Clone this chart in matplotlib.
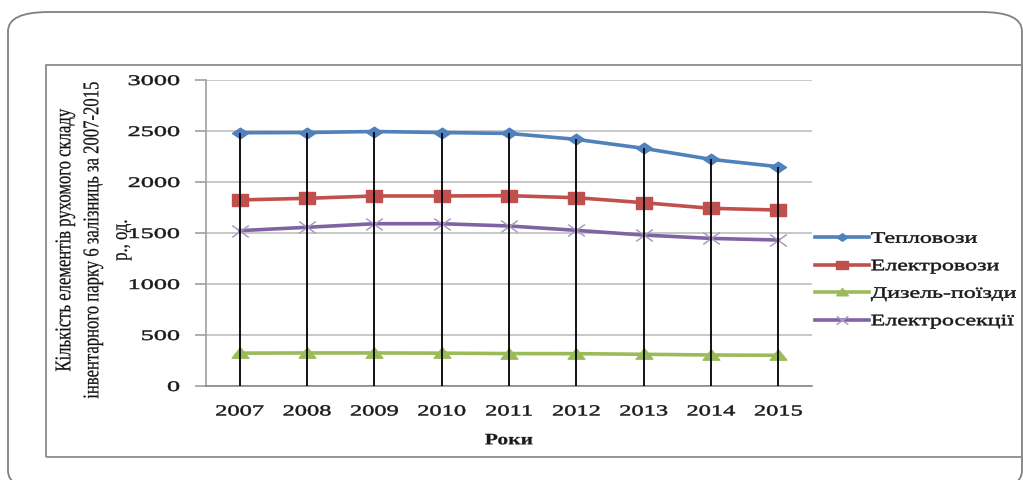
import numpy as np
import matplotlib.pyplot as plt
from matplotlib.patches import FancyBboxPatch, Rectangle
from matplotlib.patheffects import AbstractPathEffect
from matplotlib.transforms import Affine2D
from matplotlib.path import Path

years = ['2007', '2008', '2009', '2010', '2011', '2012', '2013', '2014', '2015']
teplovozy = [2483, 2485, 2495, 2485, 2476, 2418, 2330, 2222, 2150]
elektrovozy = [1824, 1840, 1863, 1863, 1866, 1846, 1797, 1742, 1725]
dyzel_poizdy = [322, 324, 324, 322, 318, 317, 311, 304, 301]
elektrosektsii = [1523, 1556, 1591, 1591, 1569, 1526, 1480, 1447, 1431]

W, H = 1023, 480
serif = 'Liberation Serif'


class StretchX(AbstractPathEffect):
    """Widen text horizontally around its left, right or centre and
    give the glyphs a thin outline of their own colour."""

    def __init__(self, sx, anchor='center', stroke=0.35):
        super().__init__()
        self.sx = sx
        self.anchor = anchor
        self.stroke = stroke

    def draw_path(self, renderer, gc, tpath, affine, rgbFace=None):
        ext = tpath.get_extents(affine)
        if self.anchor == 'left':
            x0 = ext.x0
        elif self.anchor == 'right':
            x0 = ext.x1
        else:
            x0 = 0.5 * (ext.x0 + ext.x1)
        st = Affine2D().translate(-x0, 0).scale(self.sx, 1).translate(x0, 0)
        gc0 = renderer.new_gc()
        gc0.copy_properties(gc)
        if rgbFace is not None and self.stroke > 0:
            gc0.set_foreground(rgbFace)
            gc0.set_linewidth(self.stroke)
        renderer.draw_path(gc0, tpath, affine + st, rgbFace)
        gc0.restore()


# wide, flat marker shapes
diamond = Path([(-1.5, 0), (0, 1), (1.5, 0), (0, -1), (-1.5, 0)],
               [1, 2, 2, 2, 79])
square = Path([(-1.4, -1), (1.4, -1), (1.4, 1), (-1.4, 1), (-1.4, -1)],
              [1, 2, 2, 2, 79])
triangle = Path([(-1.6, -0.9), (1.6, -0.9), (0, 1.1), (-1.6, -0.9)],
                [1, 2, 2, 79])
cross = Path([(-1.4, -1), (1.4, 1), (-1.4, 1), (1.4, -1)], [1, 2, 1, 2])

fig = plt.figure(figsize=(W / 100, H / 100), dpi=100)


def px(x, y):
    return x / W, 1 - y / H


outer = FancyBboxPatch(px(8, 490), (1022 - 8) / W, (490 - 12) / H,
                       boxstyle='round,pad=0,rounding_size=0.04',
                       transform=fig.transFigure, fill=False,
                       edgecolor='#808080', lw=1.3, clip_on=False)
fig.patches.append(outer)
inner = Rectangle(px(46, 457), (1040 - 46) / W, (457 - 65) / H,
                  transform=fig.transFigure, fill=False,
                  edgecolor='#8c8c8c', lw=1.3, clip_on=False)
fig.patches.append(inner)

left, right, top, bottom = 206, 812, 80, 386
ax = fig.add_axes([left / W, 1 - bottom / H, (right - left) / W, (bottom - top) / H])

x = np.arange(len(years))
ax.plot(x, teplovozy, color='#4F81BD', lw=2.6, marker=diamond, ms=11.5, label='Тепловози')
ax.plot(x, elektrovozy, color='#C0504D', lw=2.6, marker=square, ms=12, label='Електровози')
ax.plot(x, dyzel_poizdy, color='#9BBB59', lw=2.6, marker=triangle, ms=12, label='Дизель-поїзди')
ax.plot(x, elektrosektsii, color='#8064A2', lw=2.6, marker=cross, ms=12, mew=1.1,
        markeredgecolor='#A99BC4', label='Електросекції')

# drop lines from the highest point of each year down to the axis
tops = np.max([teplovozy, elektrovozy, dyzel_poizdy, elektrosektsii], axis=0)
ax.vlines(x, 0, tops, color='black', lw=1.3, zorder=5)

ax.set_xlim(-0.5, len(years) - 0.5)
ax.set_ylim(0, 3000)
ax.set_yticks(np.arange(0, 3001, 500))
ax.set_xticks(x)
ax.set_xticklabels(years)
ax.grid(axis='y', color='#BFBFBF', lw=1.2)
ax.set_axisbelow(True)
for s in ['top', 'right']:
    ax.spines[s].set_visible(False)
ax.spines['left'].set_color('#A0A0A0')
ax.spines['bottom'].set_color('#868686')
ax.spines['left'].set_linewidth(1.2)
ax.spines['bottom'].set_linewidth(1.2)
ax.tick_params(axis='y', length=8, color='#A0A0A0', width=1.2, pad=11)
ax.tick_params(axis='x', length=0, pad=14)
for lbl in ax.get_yticklabels():
    lbl.set_fontfamily(serif)
    lbl.set_fontsize(10.5)
    lbl.set_color('#1a1a1a')
    lbl.set_path_effects([StretchX(1.8, 'right')])
for lbl in ax.get_xticklabels():
    lbl.set_fontfamily(serif)
    lbl.set_fontsize(11)
    lbl.set_color('#1a1a1a')
    lbl.set_path_effects([StretchX(1.6)])

xl = ax.set_xlabel('Роки', fontfamily=serif, fontsize=11.5, fontweight='bold',
                   color='#1a1a1a', labelpad=10)
xl.set_path_effects([StretchX(1.35, stroke=0.15)])

ylab = ['Кількість елементів рухомого складу',
        'інвентарного парку 6 залізниць за 2007-2015',
        'р., од.']
for xp, txt in zip([65, 93, 122], ylab):
    t = fig.text(xp / W, 1 - 240 / H, txt, rotation=90, ha='center', va='center',
                 fontfamily=serif, fontsize=12, color='#111111')
    t.set_path_effects([StretchX(1.35, stroke=0.15)])

leg = ax.legend(loc='center left', bbox_to_anchor=(815 / W, 1 - 280 / H),
                bbox_transform=fig.transFigure, frameon=False,
                prop={'family': serif, 'size': 11.5},
                handlelength=3.4, handletextpad=0.1, labelspacing=0.72,
                markerscale=0.7, borderaxespad=0, borderpad=0)
for t in leg.get_texts():
    t.set_color('#1a1a1a')
    t.set_path_effects([StretchX(1.5, 'left')])

fig.savefig('out.png', dpi=100)
